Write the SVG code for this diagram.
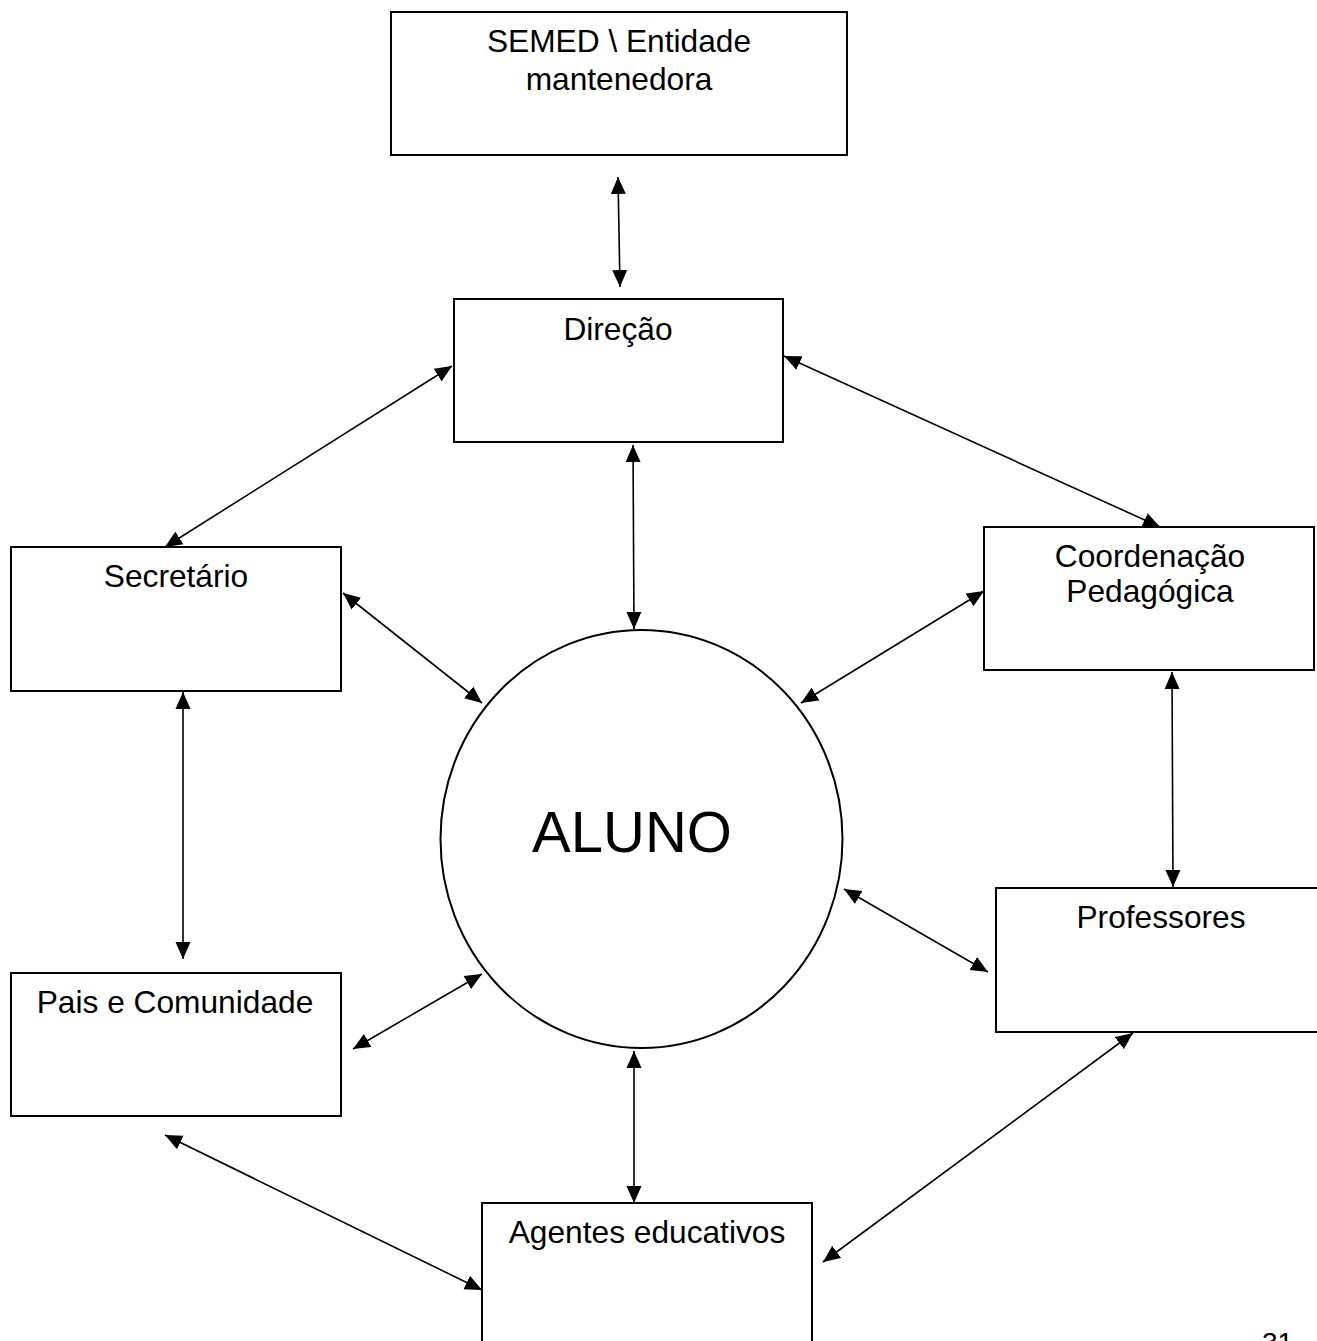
<svg xmlns="http://www.w3.org/2000/svg" width="1317" height="1341" viewBox="0 0 1317 1341">
<style>
.box{fill:#fff;stroke:#000;stroke-width:2}
.lbl{font-family:"Liberation Sans",Arial,sans-serif;font-size:31.7px;fill:#000;text-anchor:middle}
.con{stroke:#000;stroke-width:1.6;fill:none;marker-start:url(#ah);marker-end:url(#ah)}
</style>
<defs>
<marker id="ah" markerUnits="userSpaceOnUse" markerWidth="18" markerHeight="16" refX="17" refY="7.5" orient="auto-start-reverse" viewBox="0 0 18 15">
<path d="M0,0 L17,7.5 L0,15 z" fill="#000"/>
</marker>
</defs>
<rect width="1317" height="1341" fill="#fff"/>
<g id="semed"><rect class="box" x="391" y="12" width="456" height="143"/>
<text class="lbl" x="619" y="52">SEMED \ Entidade</text>
<text class="lbl" x="619" y="90">mantenedora</text></g>
<g id="direcao"><rect class="box" x="454" y="299" width="329" height="143"/>
<text class="lbl" x="618" y="340">Direção</text></g>
<g id="secretario"><rect class="box" x="11" y="547" width="330" height="144"/>
<text class="lbl" x="176" y="587">Secretário</text></g>
<g id="coordenacao"><rect class="box" x="984" y="527" width="330" height="143"/>
<text class="lbl" x="1150" y="567">Coordenação</text>
<text class="lbl" x="1150" y="602">Pedagógica</text></g>
<g id="aluno"><ellipse cx="641.5" cy="839" rx="201" ry="209" fill="#fff" stroke="#000" stroke-width="2"/>
<text x="632" y="852" font-family="Liberation Sans, Arial, sans-serif" font-size="58" text-anchor="middle">ALUNO</text></g>
<g id="professores"><rect class="box" x="996" y="888" width="330" height="144"/>
<text class="lbl" x="1161" y="928">Professores</text></g>
<g id="pais"><rect class="box" x="11" y="973" width="330" height="143"/>
<text class="lbl" x="175" y="1013">Pais e Comunidade</text></g>
<g id="agentes"><rect class="box" x="482" y="1203" width="330" height="150"/>
<text class="lbl" x="647" y="1243">Agentes educativos</text></g>
<g id="page"><text x="1262" y="1352" font-family="Liberation Sans, Arial, sans-serif" font-size="28">31</text></g>
<g id="connectors">
<line class="con" x1="618" y1="177" x2="620" y2="287"/>
<line class="con" x1="452" y1="366" x2="165" y2="547"/>
<line class="con" x1="784" y1="356" x2="1160" y2="527"/>
<line class="con" x1="633" y1="445" x2="634" y2="629"/>
<line class="con" x1="343" y1="593" x2="482" y2="703"/>
<line class="con" x1="984" y1="591" x2="801" y2="703"/>
<line class="con" x1="1172" y1="672" x2="1173" y2="887"/>
<line class="con" x1="183" y1="692" x2="183" y2="959"/>
<line class="con" x1="844" y1="889" x2="988" y2="972"/>
<line class="con" x1="353" y1="1049" x2="482" y2="974"/>
<line class="con" x1="634" y1="1051" x2="634" y2="1203"/>
<line class="con" x1="165" y1="1135" x2="482" y2="1290"/>
<line class="con" x1="1133" y1="1033" x2="823" y2="1262"/>
</g>
</svg>
